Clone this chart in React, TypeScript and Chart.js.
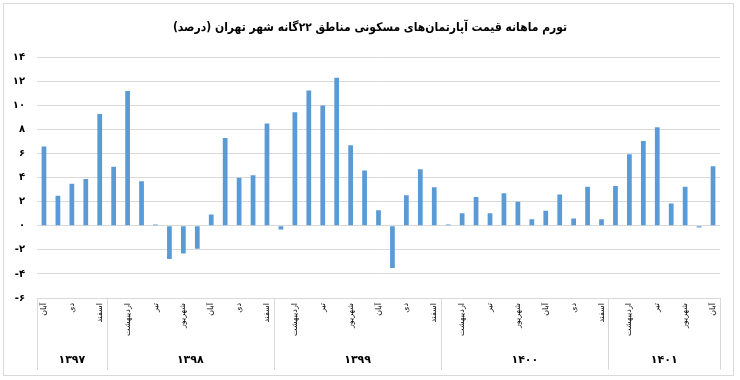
import React, { useEffect, useRef } from "react";
import { Chart, registerables } from "chart.js";

Chart.register(...registerables);

const chartTitle = "تورم ماهانه قیمت آپارتمان‌های مسکونی مناطق ۲۲گانه شهر تهران (درصد)";

const months1397 = ["آبان", "آذر", "دی", "بهمن", "اسفند"];
const months1398 = ["فروردین", "اردیبهشت", "خرداد", "تیر", "مرداد", "شهریور", "مهر", "آبان", "آذر", "دی", "بهمن", "اسفند"];
const months1399 = ["فروردین", "اردیبهشت", "خرداد", "تیر", "مرداد", "شهریور", "مهر", "آبان", "آذر", "دی", "بهمن", "اسفند"];
const months1400 = ["فروردین", "اردیبهشت", "خرداد", "تیر", "مرداد", "شهریور", "مهر", "آبان", "آذر", "دی", "بهمن", "اسفند"];
const months1401 = ["فروردین", "اردیبهشت", "خرداد", "تیر", "مرداد", "شهریور", "مهر", "آبان"];

const values1397 = [6.6, 2.5, 3.5, 3.9, 9.3];
const values1398 = [4.9, 11.2, 3.7, 0.1, -2.75, -2.3, -1.9, 0.95, 7.3, 4.0, 4.2, 8.5];
const values1399 = [-0.3, 9.45, 11.25, 10.0, 12.3, 6.7, 4.6, 1.3, -3.5, 2.55, 4.7, 3.2];
const values1400 = [0.1, 1.05, 2.4, 1.05, 2.7, 2.0, 0.55, 1.25, 2.6, 0.6, 3.25, 0.55];
const values1401 = [3.3, 5.95, 7.05, 8.2, 1.85, 3.25, -0.15, 4.95];

const yearLabels = ["۱۳۹۷", "۱۳۹۸", "۱۳۹۹", "۱۴۰۰", "۱۴۰۱"];
const yearMonths = [months1397, months1398, months1399, months1400, months1401];
const yearValues = [values1397, values1398, values1399, values1400, values1401];

const monthLabels = yearMonths.flat();
const allValues = yearValues.flat();

const persianDigits = ["۰", "۱", "۲", "۳", "۴", "۵", "۶", "۷", "۸", "۹"];
const toPersian = (n: number) => {
  const s = String(Math.abs(n)).replace(/[0-9]/g, (d) => persianDigits[Number(d)]);
  return n < 0 ? "-" + s : s;
};

const FONT = "'DejaVu Sans', sans-serif";
const TITLE_FONT = "'DejaVu Sans Condensed', 'DejaVu Sans', sans-serif";

const yearAxisPlugin = {
  id: "yearAxis",
  afterDraw(chart: any) {
    const x = chart.scales.x;
    const area = chart.chartArea;
    const ctx = chart.ctx;
    const n = monthLabels.length;
    const cw = (x.right - x.left) / n;
    const top = area.bottom;
    const bottom = area.bottom + 72;
    ctx.save();
    ctx.strokeStyle = "#d9d9d9";
    ctx.lineWidth = 1;
    let start = 0;
    const bounds: number[] = [];
    yearMonths.forEach((m) => {
      bounds.push(x.getPixelForValue(start) - cw / 2);
      start += m.length;
    });
    bounds.push(x.getPixelForValue(start - 1) + cw / 2);
    bounds.forEach((b) => {
      const px = Math.round(b) + 0.5;
      ctx.beginPath();
      ctx.moveTo(px, top);
      ctx.lineTo(px, bottom);
      ctx.stroke();
    });
    ctx.fillStyle = "#000";
    ctx.font = "bold 11px " + FONT;
    ctx.textAlign = "center";
    ctx.textBaseline = "middle";
    yearLabels.forEach((yl, i) => {
      const cx = (bounds[i] + bounds[i + 1]) / 2;
      ctx.fillText(yl, cx, area.bottom + 62);
    });
    ctx.restore();
  },
};

export default function App() {
  const ref = useRef<HTMLCanvasElement>(null);
  useEffect(() => {
    const chart = new Chart(ref.current as HTMLCanvasElement, {
      type: "bar",
      data: {
        labels: monthLabels,
        datasets: [
          {
            data: allValues,
            backgroundColor: "#5B9BD5",
            borderWidth: 0,
            barPercentage: 0.34,
            categoryPercentage: 1,
          },
        ],
      },
      options: {
        animation: false,
        responsive: false,
        devicePixelRatio: 1,
        layout: { padding: { left: 0, right: 0, top: 0, bottom: 0 } },
        plugins: {
          legend: { display: false },
          tooltip: { enabled: false },
          title: {
            display: true,
            text: chartTitle,
            color: "#000",
            font: { family: TITLE_FONT, size: 12, weight: "bold" },
            padding: { top: 21, bottom: 22 },
          },
        },
        scales: {
          x: {
            grid: { display: false, drawTicks: false },
            border: { display: false },
            ticks: {
              autoSkip: false,
              minRotation: 90,
              maxRotation: 90,
              padding: 5,
              color: "#000",
              font: { family: FONT, size: 8 },
              callback: (_v: any, i: number) => (i % 2 === 0 ? monthLabels[i] : ""),
            },
            afterFit: (s: any) => {
              s.height = 82;
            },
          },
          y: {
            min: -6,
            max: 14,
            grid: { color: "#d9d9d9", drawTicks: false },
            border: { display: false },
            ticks: {
              stepSize: 2,
              padding: 12,
              color: "#000",
              font: { family: FONT, size: 10, weight: "bold" },
              callback: (v: any) => toPersian(Number(v)),
            },
            afterFit: (s: any) => {
              s.width = 37;
            },
          },
          yRight: {
            position: "right",
            display: true,
            grid: { display: false, drawTicks: false },
            border: { display: false },
            ticks: { display: false },
            afterFit: (s: any) => {
              s.width = 20;
            },
          },
        },
      },
      plugins: [yearAxisPlugin],
    });
    return () => chart.destroy();
  }, []);

  return (
    <div style={{ position: "absolute", left: 0, top: 0, width: 740, height: 380, background: "#fff" }}>
      <canvas ref={ref} width={740} height={380} style={{ display: "block" }} />
      <div
        style={{
          position: "absolute",
          left: 3,
          top: 3,
          width: 729,
          height: 371,
          border: "1px solid #d9d9d9",
          pointerEvents: "none",
        }}
      />
    </div>
  );
}
